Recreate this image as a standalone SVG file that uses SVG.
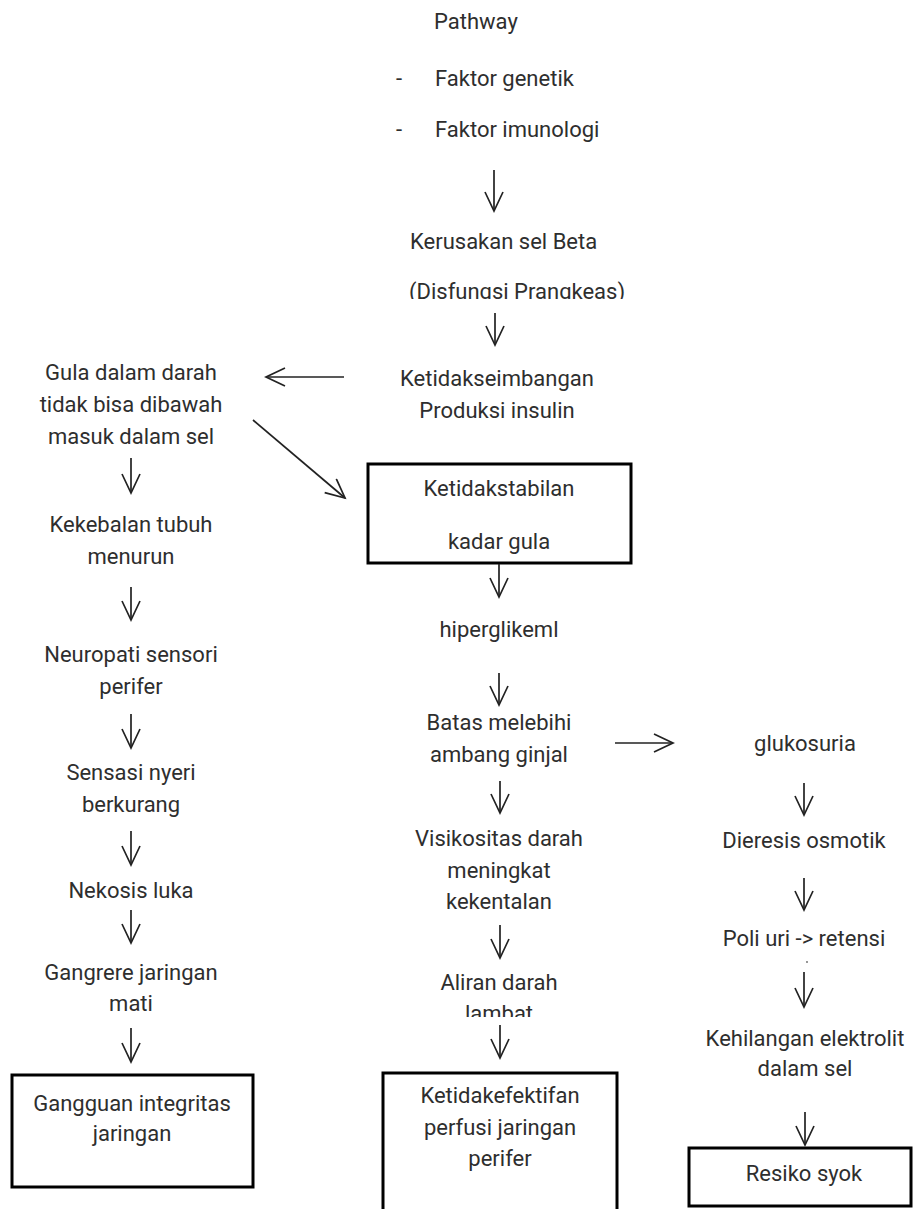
<svg xmlns="http://www.w3.org/2000/svg" width="913" height="1209" viewBox="0 0 913 1209">
<style>
text{font-family:Roboto,"Liberation Sans",sans-serif;font-size:22px;fill:#2e2e2e;text-anchor:middle}
.l{text-anchor:start}
.c line{stroke:#222;stroke-width:1.7;fill:none;marker-end:url(#ah)}
.box{fill:none;stroke:#000;stroke-width:3}
</style>
<defs>
<marker id="ah" markerUnits="userSpaceOnUse" markerWidth="24" markerHeight="24" viewBox="0 0 24 24" refX="20" refY="10" orient="auto">
<path d="M1,1 L20,10 L1,19" fill="none" stroke="#222" stroke-width="1.7"/>
</marker>
<clipPath id="clipA"><rect x="0" y="0" width="913" height="299"/></clipPath>
<clipPath id="clipB"><rect x="0" y="0" width="913" height="1017"/></clipPath>
</defs>
<rect width="913" height="1209" fill="#fff"/>
<g id="n-pathway"><text class="l" x="434" y="29">Pathway</text></g>
<g id="n-faktor"><text class="l" x="396" y="86">-</text><text class="l" x="435" y="86">Faktor genetik</text><text class="l" x="396" y="137">-</text><text class="l" x="435" y="137">Faktor imunologi</text></g>
<g id="n-kerusakan"><text class="l" x="410" y="249">Kerusakan sel Beta</text><text class="l" x="409" y="299" clip-path="url(#clipA)">(Disfungsi Prangkeas)</text></g>
<g id="n-ketidakseimbangan"><text x="497" y="386">Ketidakseimbangan</text><text x="497" y="418">Produksi insulin</text></g>
<g id="n-gula"><text x="131" y="380">Gula dalam darah</text><text x="131" y="412">tidak bisa dibawah</text><text x="131" y="444">masuk dalam sel</text></g>
<g id="n-ketidakstabilan"><rect class="box" x="368" y="464" width="263" height="99"/><text x="499" y="496">Ketidakstabilan</text><text x="499" y="549">kadar gula</text></g>
<g id="n-hiperglikemi"><text x="499" y="637">hiperglikeml</text></g>
<g id="n-batas"><text x="499" y="730">Batas melebihi</text><text x="499" y="762">ambang ginjal</text></g>
<g id="n-glukosuria"><text x="805" y="751">glukosuria</text></g>
<g id="n-visikositas"><text x="499" y="846">Visikositas darah</text><text x="499" y="878">meningkat</text><text x="499" y="909">kekentalan</text></g>
<g id="n-aliran"><text x="499" y="990">Aliran darah</text><text x="499" y="1021" clip-path="url(#clipB)">lambat</text></g>
<g id="n-perfusi"><rect class="box" x="383" y="1073" width="234" height="145"/><text x="500" y="1103">Ketidakefektifan</text><text x="500" y="1135">perfusi jaringan</text><text x="500" y="1166">perifer</text></g>
<g id="n-kekebalan"><text x="131" y="532">Kekebalan tubuh</text><text x="131" y="564">menurun</text></g>
<g id="n-neuropati"><text x="131" y="662">Neuropati sensori</text><text x="131" y="694">perifer</text></g>
<g id="n-sensasi"><text x="131" y="780">Sensasi nyeri</text><text x="131" y="812">berkurang</text></g>
<g id="n-nekosis"><text x="131" y="898">Nekosis luka</text></g>
<g id="n-gangrere"><text x="131" y="980">Gangrere jaringan</text><text x="131" y="1011">mati</text></g>
<g id="n-gangguan"><rect class="box" x="12" y="1075" width="241" height="112"/><text x="132" y="1111">Gangguan integritas</text><text x="132" y="1141">jaringan</text></g>
<g id="n-dieresis"><text x="804" y="848">Dieresis osmotik</text></g>
<g id="n-poli"><text x="804" y="946">Poli uri -&gt; retensi</text><circle cx="807" cy="962" r="0.9" fill="#666"/></g>
<g id="n-kehilangan"><text x="805" y="1046">Kehilangan elektrolit</text><text x="805" y="1076">dalam sel</text></g>
<g id="n-resiko"><rect class="box" x="689" y="1148" width="222" height="58"/><text x="804" y="1181">Resiko syok</text></g>
<g id="connectors" class="c">
<line x1="494" y1="170" x2="494" y2="211"/>
<line x1="495" y1="313" x2="495" y2="345"/>
<line x1="344" y1="377" x2="266" y2="377"/>
<line x1="253" y1="420" x2="345" y2="498"/>
<line x1="499" y1="564" x2="499" y2="597"/>
<line x1="499" y1="673" x2="499" y2="705"/>
<line x1="615" y1="743" x2="673" y2="743"/>
<line x1="500" y1="781" x2="500" y2="813"/>
<line x1="500" y1="925" x2="500" y2="958"/>
<line x1="500" y1="1025" x2="500" y2="1058"/>
<line x1="131" y1="458" x2="131" y2="493"/>
<line x1="131" y1="587" x2="131" y2="620"/>
<line x1="131" y1="714" x2="131" y2="748"/>
<line x1="131" y1="831" x2="131" y2="865"/>
<line x1="131" y1="910" x2="131" y2="943"/>
<line x1="131" y1="1028" x2="131" y2="1062"/>
<line x1="804" y1="783" x2="804" y2="815"/>
<line x1="804" y1="878" x2="804" y2="910"/>
<line x1="804" y1="972" x2="804" y2="1007"/>
<line x1="805" y1="1112" x2="805" y2="1145"/>
</g>
</svg>
